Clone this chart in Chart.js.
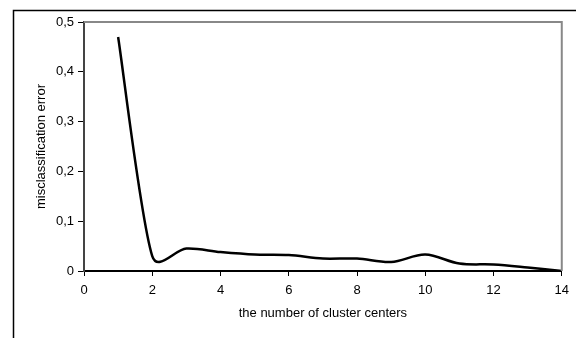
<!DOCTYPE html>
<html>
<head>
<meta charset="utf-8">
<script src="https://cdn.jsdelivr.net/npm/chart.js@4"></script>
<style>
html,body{margin:0;padding:0;background:#fff;}
#wrap{width:576px;height:338px;position:relative;}
</style>
</head>
<body>
<div id="wrap"><canvas id="c" width="576" height="338"></canvas></div>
<script>
const clusterCenters = [1,2,3,4,5,6,7,8,9,10,11,12,13,14];
const errorValues = [0.47,0.03,0.045,0.038,0.033,0.032,0.025,0.025,0.018,0.033,0.015,0.013,0.007,0.0];
const xTitle = 'the number of cluster centers';
const yTitle = 'misclassification error';

const FONT = {family: 'Liberation Sans, Arial', size: 13};

const framePlugin = {
  id: 'frame',
  beforeDraw(chart) {
    const ctx = chart.ctx;
    ctx.save();
    ctx.strokeStyle = '#000';
    ctx.lineWidth = 1.5;
    ctx.beginPath();
    ctx.moveTo(13.5, 340);
    ctx.lineTo(13.5, 10.5);
    ctx.lineTo(580, 10.5);
    ctx.stroke();
    ctx.restore();
  },
  afterDatasetsDraw(chart) {
    const ctx = chart.ctx;
    const a = chart.chartArea;
    ctx.save();
    ctx.strokeStyle = '#888';
    ctx.lineWidth = 2;
    ctx.beginPath();
    ctx.moveTo(a.left, a.top);
    ctx.lineTo(a.right, a.top);
    ctx.lineTo(a.right, a.bottom);
    ctx.stroke();
    ctx.restore();
  }
};

// Spreadsheet-style smoothed line: adjust the bezier control points of the
// library's own point elements (positions come from the scales).
const smoothPlugin = {
  id: 'smooth',
  beforeDatasetDraw(chart, args) {
    const meta = args.meta;
    const line = meta.dataset;
    if (!line) return;
    line.updateControlPoints(chart.chartArea, meta.indexAxis);
    const pts = meta.data;
    const n = pts.length;
    for (let i = 0; i < n - 1; i++) {
      const p1 = pts[i], p2 = pts[i + 1];
      const p0 = i > 0 ? pts[i - 1] : p1;
      const p3 = i < n - 2 ? pts[i + 2] : p2;
      const half = Math.hypot(p2.x - p1.x, p2.y - p1.y) / 2;
      let lx = (p2.x - p0.x) / 6, ly = (p2.y - p0.y) / 6;
      let len = Math.hypot(lx, ly);
      if (len > half) { lx *= half / len; ly *= half / len; }
      p1.cp2x = p1.x + lx; p1.cp2y = p1.y + ly;
      let mx = (p3.x - p1.x) / 6, my = (p3.y - p1.y) / 6;
      len = Math.hypot(mx, my);
      if (len > half) { mx *= half / len; my *= half / len; }
      p2.cp1x = p2.x - mx; p2.cp1y = p2.y - my;
    }
    line._path = undefined;
  }
};

new Chart(document.getElementById('c'), {
  type: 'line',
  data: {
    datasets: [{
      data: clusterCenters.map((x, i) => ({x: x, y: errorValues[i]})),
      borderColor: '#000',
      borderWidth: 2.5,
      pointRadius: 0,
      tension: 0.4,
      cubicInterpolationMode: 'default',
      fill: false
    }]
  },
  options: {
    responsive: false,
    animation: false,
    layout: {padding: {left: 0, right: 9, top: 22, bottom: 0}},
    plugins: {legend: {display: false}, tooltip: {enabled: false}},
    scales: {
      x: {
        type: 'linear', min: 0, max: 14,
        afterFit(s) { s.height = 67; },
        border: {display: true, color: '#000', width: 2},
        grid: {display: true, drawOnChartArea: false, drawTicks: true, tickLength: 5, color: '#000', lineWidth: 1},
        ticks: {stepSize: 2, color: '#000', padding: 7, font: FONT},
        title: {display: true, text: xTitle, color: '#000', font: FONT, padding: {top: 0, bottom: 17}}
      },
      y: {
        min: 0, max: 0.5,
        afterFit(s) { s.width = 84; },
        border: {display: true, color: '#444', width: 2},
        grid: {display: true, drawOnChartArea: false, drawTicks: true, tickLength: 6, color: '#000', lineWidth: 1},
        ticks: {stepSize: 0.1, color: '#000', padding: 4, font: FONT,
          callback: v => (Math.round(v * 10) / 10).toString().replace('.', ',')},
        title: {display: true, text: yTitle, color: '#000', font: FONT, padding: {top: 34, bottom: 0}}
      }
    }
  },
  plugins: [framePlugin, smoothPlugin]
});
</script>
</body>
</html>
